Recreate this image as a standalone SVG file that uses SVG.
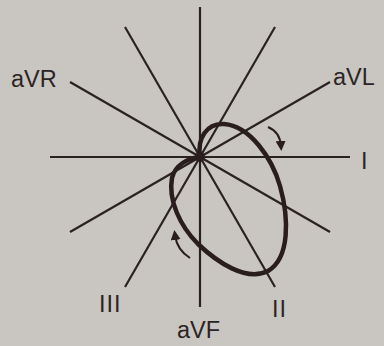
<svg xmlns="http://www.w3.org/2000/svg" width="384" height="346" viewBox="0 0 384 346">
<style>
.bg{fill:#c9c6c1}
.spoke{stroke:#2a2122;stroke-width:2.2;stroke-linecap:butt}
.loop{fill:none;stroke:#2a1d1e;stroke-width:4.5;stroke-linejoin:round}
.arr{fill:none;stroke:#2a1d1e;stroke-width:2}
.lbl{font-family:"Liberation Sans",Arial,sans-serif;font-size:23.5px;fill:#2b2425}
.num{font-family:"Liberation Sans",Arial,sans-serif;font-size:23.5px;fill:#2b2425;letter-spacing:1px}
</style>
<defs>
<marker id="ah" markerWidth="10" markerHeight="10" refX="5" refY="5" orient="auto" markerUnits="userSpaceOnUse" viewBox="0 0 10 10">
<path d="M0,0 L10,5 L0,10 Z" fill="#2a1d1e"/>
</marker>
</defs>
<rect class="bg" x="0" y="0" width="384" height="346"/>
<g id="connectors">
<line class="spoke" x1="50" y1="157" x2="350" y2="157"/>
<line class="spoke" x1="200" y1="7" x2="200" y2="307"/>
<line class="spoke" x1="70" y1="82" x2="330" y2="232"/>
<line class="spoke" x1="330" y1="82" x2="70" y2="232"/>
<line class="spoke" x1="125" y1="27" x2="275" y2="287"/>
<line class="spoke" x1="275" y1="27" x2="125" y2="287"/>
</g>
<g id="loop">
<path class="loop" d="M200 157 C197 138 207 123 224 124 C250 126 272 158 280 186 C289 218 290 258 268 271 C246 282 217 262 198 244 C180 226 168 200 172 178 C175 165 188 158 200 157 Z"/>
<circle cx="200" cy="157" r="5" fill="#2a1d1e"/>
</g>
<g id="arrow-top">
<path class="arr" d="M268 127 Q280 132 281 146" marker-end="url(#ah)"/>
</g>
<g id="arrow-bottom">
<path class="arr" d="M190 258 Q177 250 175 235" marker-end="url(#ah)"/>
</g>
<g id="labels">
<text class="lbl" x="11" y="87">aVR</text>
<text class="lbl" x="333" y="85">aVL</text>
<text class="num" x="361" y="169">I</text>
<text class="num" x="99" y="312">III</text>
<text class="num" x="272" y="317">II</text>
<text class="lbl" x="177" y="338">aVF</text>
</g>
</svg>
